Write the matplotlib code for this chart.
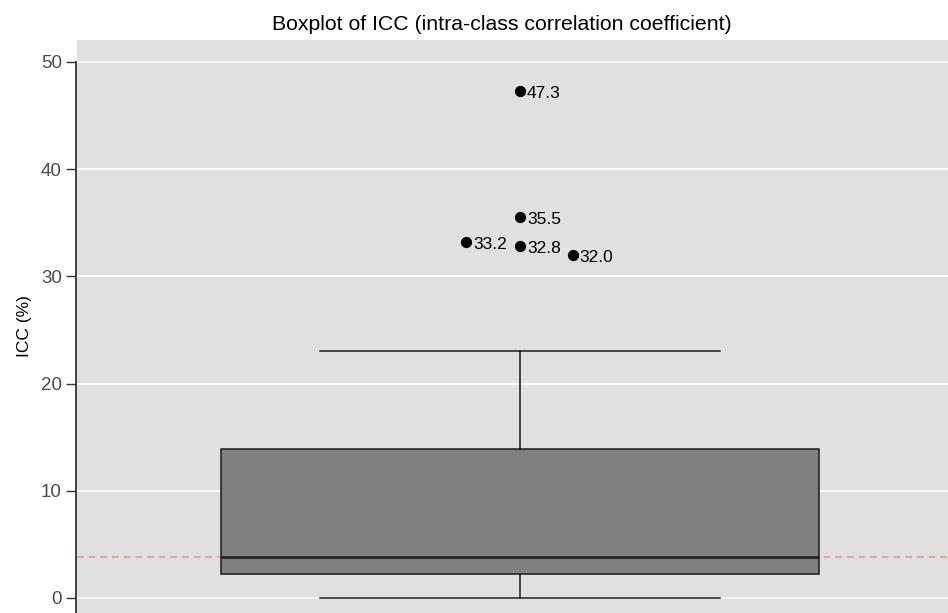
import numpy as np
import matplotlib
matplotlib.use("Agg")
import matplotlib.pyplot as plt

plt.rcParams['font.family'] = ['Liberation Sans', 'DejaVu Sans']

# box summary (ICC in %)
q1, med, q3 = 2.24, 3.78, 13.9
whislo, whishi = 0.0, 23.0
outliers = [47.3, 35.5, 33.2, 32.8, 32.0]
outlier_x = [0.0, 0.0, -0.09, 0.0, 0.088]   # horizontal jitter of the points
ref_line = 3.78

fig = plt.figure(figsize=(9.48, 6.13), dpi=100)
ax = fig.add_axes([77/948, 0.0, 1 - 77/948, 1 - 40/613])
ax.set_facecolor("#e0e0e0")

stats = [dict(med=med, q1=q1, q3=q3, whislo=whislo, whishi=whishi, fliers=[])]
ax.bxp(stats, positions=[0], widths=1.0, patch_artist=True, showfliers=False,
       boxprops=dict(facecolor="#808080", edgecolor="#1a1a1a", linewidth=1.1),
       medianprops=dict(color="#1a1a1a", linewidth=1.8),
       whiskerprops=dict(color="#1a1a1a", linewidth=1.1),
       capprops=dict(color="#1a1a1a", linewidth=1.1),
       capwidths=0.667, zorder=3)

ax.scatter(outlier_x, outliers, s=50, color="black", zorder=4)
for x, v in zip(outlier_x, outliers):
    ax.annotate(f"{v:.1f}", (x, v), xytext=(5, -1.5), textcoords="offset points",
                va="center", ha="left", fontsize=12.5)

ax.axhline(ref_line, color="#e89a9a", linestyle=(0, (4, 3)), linewidth=1.2, zorder=2)

ax.set_xlim(-0.74, 0.715)
ax.set_ylim(-1.4, 52.05)
ax.set_yticks([0, 10, 20, 30, 40, 50])
ax.grid(axis="y", color="white", linewidth=1.2)
ax.set_axisbelow(True)
ax.set_xticks([])

for s in ["top", "right", "bottom"]:
    ax.spines[s].set_visible(False)
ax.spines["left"].set_color("#333333")
ax.spines["left"].set_linewidth(1.3)
ax.spines["left"].set_bounds(-1.4, 50)
ax.spines["left"].set_position(("outward", 1))
ax.tick_params(axis="y", direction="out", length=7, width=1, color="#333333",
               labelcolor="#4d4d4d", labelsize=13.5, pad=3)

ax.set_ylabel("ICC (%)", fontsize=12.5, labelpad=6)
ax.set_title("Boxplot of ICC (intra-class correlation coefficient)", fontsize=15.3,
             pad=7, x=(502 - 77) / 871)

fig.savefig("out.png", dpi=100)
